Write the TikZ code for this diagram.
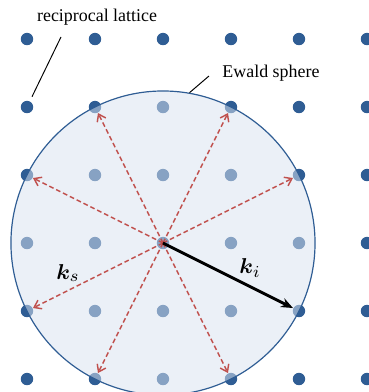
\documentclass[tikz,border=0pt]{standalone}
\usepackage{fontspec}
\setmainfont{Liberation Serif}
\usepackage{amsmath,bm}
\usetikzlibrary{arrows.meta}
\definecolor{dotblue}{RGB}{47,93,148}
\definecolor{sphereblue}{RGB}{217,226,240}
\definecolor{rayred}{RGB}{192,80,77}

\begin{document}
\begin{tikzpicture}[
    latdot/.style={circle,fill=dotblue,inner sep=0pt,minimum size=5.2pt},
    sphere/.style={circle,draw=dotblue,line width=.5pt,fill=sphereblue,
      fill opacity=.52,inner sep=0pt,minimum size=4.472cm},
    ray/.style={rayred,line width=.6pt,dash pattern=on 2pt off 1.2pt,
      -{Straight Barb[length=2.8pt,width=4pt]}},
    beam/.style={black,line width=1.2pt,-{Stealth[length=5pt,width=4pt]}},
    lbl/.style={font=\fontsize{7.5}{9}\selectfont},
    klbl/.style={text=black,font=\fontsize{9.5}{11}\selectfont}]
    \useasboundingbox (-2.397,-2.191) rectangle (3.029,3.574);
    % lattice points
    \foreach \x in {-2,...,3}
      \foreach \y in {-2,...,3}
        \draw (\x,\y) node[latdot] (p\x\y) {};
    % Ewald sphere
    \draw (0,0) node[sphere] (S) {};
    % scattered waves
    \foreach \d in {21,12,-12,-21,-1-2,1-2}
      \draw[ray] (p00.center)--(p\d);
    \draw[ray] (p00.center)--(p-2-1) node[klbl,above,pos=.73] {$\bm{k}_s$};
    \draw[beam] (p00.center)--(p2-1) node[klbl,above,pos=.67] {$\bm{k}_i$};
    % labels
    \draw (-0.97,3.32) node[lbl] (rl) {reciprocal lattice};
    \draw (1.588,2.50) node[lbl] (ew) {Ewald sphere};
    \coordinate (rl0) at (-1.5,3.03);
    \coordinate (ew0) at (0.676,2.456);
    \draw[shorten >=2pt] (rl0)--(p-22);
    \draw (ew0)--(S.80);
\end{tikzpicture}
\end{document}
